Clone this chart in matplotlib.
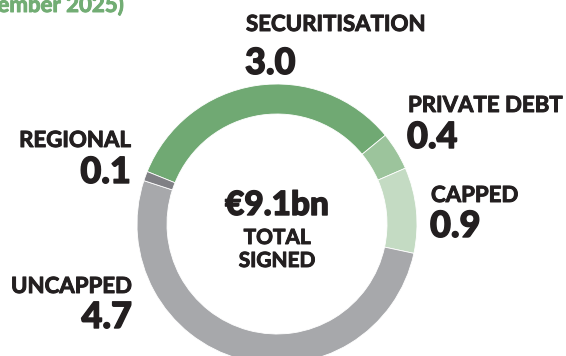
import matplotlib.pyplot as plt
import matplotlib.patheffects as pe

# Signed amounts by segment, EUR bn (clockwise from the top-left)
segments = ['SECURITISATION', 'PRIVATE DEBT', 'CAPPED', 'UNCAPPED', 'REGIONAL']
amounts = [3.0, 0.4, 0.9, 4.7, 0.1]
colors = ['#70a973', '#9cc49c', '#c4dbc3', '#a7a8ab', '#808085']
total_label = '€9.1bn'

W, H = 566, 356
ink = '#231f20'
font = 'Lato'

fig = plt.figure(figsize=(W / 100, H / 100), dpi=100)
ax = fig.add_axes([0, 0, 1, 1])
ax.set_xlim(0, W)
ax.set_ylim(0, H)
ax.set_aspect('equal')
ax.axis('off')

# donut, centre and radii in pixels
ax.pie(amounts, colors=colors, center=(277, H - 224), radius=140,
       startangle=158, counterclock=False,
       wedgeprops=dict(width=30, edgecolor='white', linewidth=0.6))
ax.set_xlim(0, W)
ax.set_ylim(0, H)


def heavy(lw, c=ink):
    return [pe.withStroke(linewidth=lw, foreground=c)]


# label positions: (x, baseline of name, baseline of value, alignment)
label_pos = {
    'SECURITISATION': (246, 31, 74, 'left'),
    'PRIVATE DEBT': (408, 112, 148, 'left'),
    'CAPPED': (431, 202, 237, 'left'),
    'UNCAPPED': (132, 293, 328, 'right'),
    'REGIONAL': (131, 147, 183, 'right'),
}
for name, val in zip(segments, amounts):
    x, y1, y2, ha = label_pos[name]
    ax.text(x, H - y1, name, ha=ha, va='baseline', fontsize=16,
            fontweight='bold', family=font, color=ink, path_effects=heavy(0.7))
    ax.text(x - (1 if ha == 'left' else 0), H - y2, f'{val:.1f}', ha=ha,
            va='baseline', fontsize=26, fontweight='black', family=font,
            color=ink, path_effects=heavy(1.0))

# centre text
ax.text(277, H - 215, total_label, ha='center', va='baseline', fontsize=24,
        fontweight='black', family=font, color=ink, path_effects=heavy(1.0))
ax.text(277, H - 244, 'TOTAL', ha='center', va='baseline', fontsize=15,
        fontweight='bold', family=font, color=ink, path_effects=heavy(0.7))
ax.text(277, H - 267, 'SIGNED', ha='center', va='baseline', fontsize=15,
        fontweight='bold', family=font, color=ink, path_effects=heavy(0.7))

# heading, cut off at the top-left edge
green = '#72ad74'
ax.text(124, H - 12, 'ember 2025)', ha='right', va='baseline', fontsize=16,
        fontweight='bold', family=font, color=green,
        path_effects=heavy(0.7, green))

fig.savefig('out.png', dpi=100)
